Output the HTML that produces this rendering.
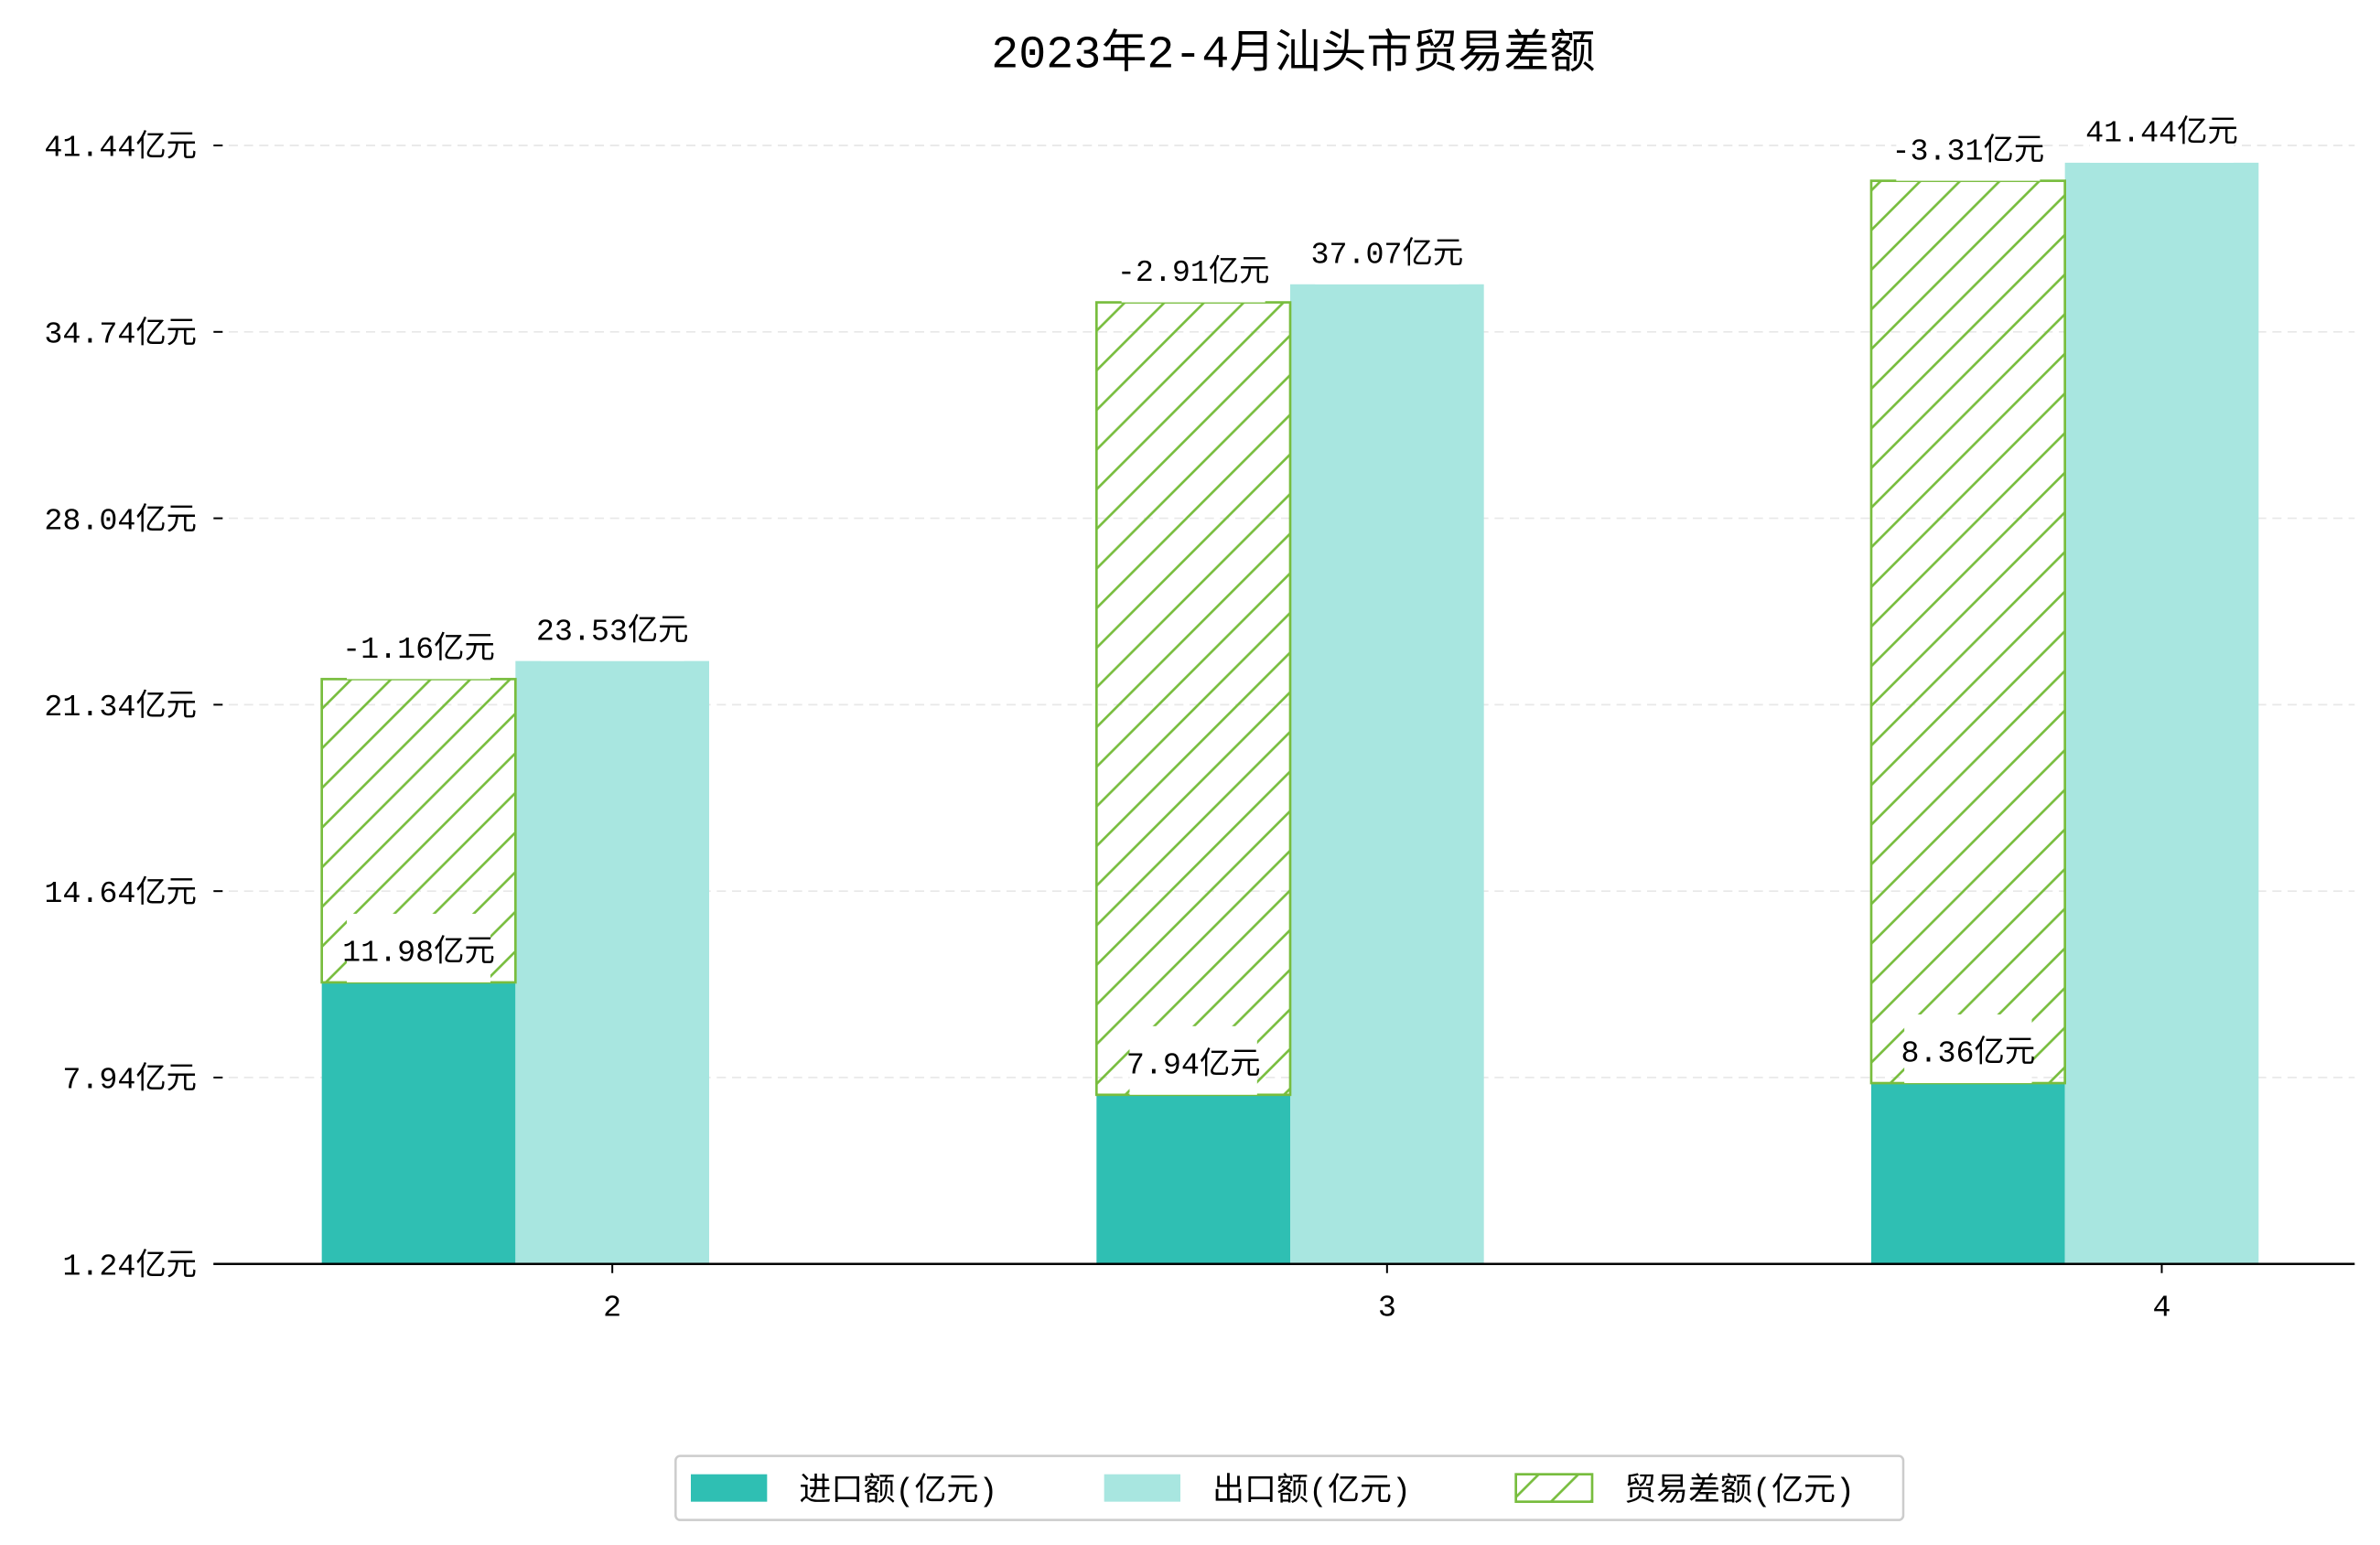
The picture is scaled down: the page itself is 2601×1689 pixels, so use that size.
<!DOCTYPE html>
<html><head><meta charset="utf-8"><style>
html,body{margin:0;padding:0;background:#fff;}
svg{display:block;font-family:"Liberation Mono","Noto Sans CJK SC",monospace;}
</style></head><body>
<svg id="chart" width="2601" height="1689" viewBox="0 0 1560.6 1013.4" xmlns="http://www.w3.org/2000/svg">
<defs>
<pattern id="hatch" patternUnits="userSpaceOnUse" width="26" height="26">
<path d="M-6.5,6.5 l13,-13 M0,26 l26,-26 M19.5,32.5 l13,-13" stroke="#78bd3e" stroke-width="1.6"/>
</pattern>
</defs>
<text x="848" y="44" font-size="30" text-anchor="middle">2023年2-4月汕头市贸易差额</text>
<g id="grid"></g><g id="bars"></g><g id="axes"></g><g id="labels"></g>
<g>
<rect x="443" y="955" width="805" height="42" rx="3" fill="#fff" stroke="#ccc" stroke-width="1.5"/>
<rect x="453" y="967" width="50" height="18" fill="#2fbfb3"/>
<text x="524" y="984" font-size="21">进口额(亿元)</text>
<rect x="724" y="967" width="50" height="18" fill="#a8e6e0"/>
<text x="795" y="984" font-size="21">出口额(亿元)</text>
<rect x="994" y="967" width="50" height="18" fill="url(#hatch)" stroke="#78bd3e" stroke-width="1.6"/>
<text x="1065" y="984" font-size="21">贸易差额(亿元)</text>
</g>
</svg>
<script>
const months = ['2','3','4'];
const importVals = [11.98, 7.94, 8.36];
const exportVals = [23.53, 37.07, 41.44];
const balanceVals = [-1.16, -2.91, -3.31];
const tickLabels = [1.24, 7.94, 14.64, 21.34, 28.04, 34.74, 41.44];

const NS='http://www.w3.org/2000/svg';
const y = v => 863 - 18.25*v;
const tickY = t => y(t + 0.62);
const axisY = tickY(tickLabels[0]);
const x = i => 401.5 + 508*i;
const BW = 127;
function mk(tag, attrs, parent, text){const e=document.createElementNS(NS,tag);for(const k in attrs)e.setAttribute(k,attrs[k]);if(text!==undefined)e.textContent=text;document.getElementById(parent).appendChild(e);return e;}

tickLabels.forEach((t,i)=>{
  const ty=tickY(t);
  if(i>0){const g=mk('line',{x1:140,x2:1544,y1:ty,y2:ty,stroke:'#e8e8e8','stroke-dasharray':'6,4','stroke-width':1},'grid');
  
  }
  const tk=mk('line',{x1:140,x2:146,y1:ty,y2:ty,stroke:'#000','stroke-width':1.2},'axes');
  
  
  const tl=mk('text',{x:129,y:ty+7,'font-size':20,'text-anchor':'end'},'axes',t.toFixed(2)+'亿元');
  
  
});

function label(cx, cy, txt, name){
  const w = txt.length*10.6+20;
  const r=mk('rect',{x:cx-w/2,y:cy-45,width:w,height:45,fill:'#fff'},'labels');
  
  
  const t=mk('text',{x:cx,y:cy-14,'font-size':20,'text-anchor':'middle'},'labels',txt);
  
  
}

months.forEach((m,i)=>{
  const cx=x(i);
  const ix=cx-1.5*BW, ex=cx-0.5*BW;
  const yi=y(importVals[i]), ye=y(exportVals[i]);
  const bi=mk('rect',{x:ix,y:yi,width:BW,height:axisY-yi,fill:'#2fbfb3'},'bars');
  
  
  const be=mk('rect',{x:ex,y:ye,width:BW,height:axisY-ye,fill:'#a8e6e0'},'bars');
  
  
  const yh=y(exportVals[i]-0.65);
  const bh=mk('rect',{x:ix,y:yh,width:BW,height:yi-yh,fill:'url(#hatch)',stroke:'#78bd3e','stroke-width':1.6},'bars');
  
  
  label(ix+BW/2, yi, importVals[i].toFixed(2)+'亿元','label-import-'+m);
  label(ix+BW/2, yh, balanceVals[i].toFixed(2)+'亿元','label-balance-'+m);
  label(ex+BW/2, ye, exportVals[i].toFixed(2)+'亿元','label-export-'+m);
  const xt=mk('line',{x1:cx,x2:cx,y1:axisY,y2:axisY+6,stroke:'#000','stroke-width':1.2},'axes');
  
  
  const xl=mk('text',{x:cx,y:axisY+34,'font-size':20,'text-anchor':'middle'},'axes',m);
  
  
});
const ax=mk('line',{x1:140,x2:1544,y1:axisY,y2:axisY,stroke:'#000','stroke-width':1.5},'axes');


</script>
</body></html>
